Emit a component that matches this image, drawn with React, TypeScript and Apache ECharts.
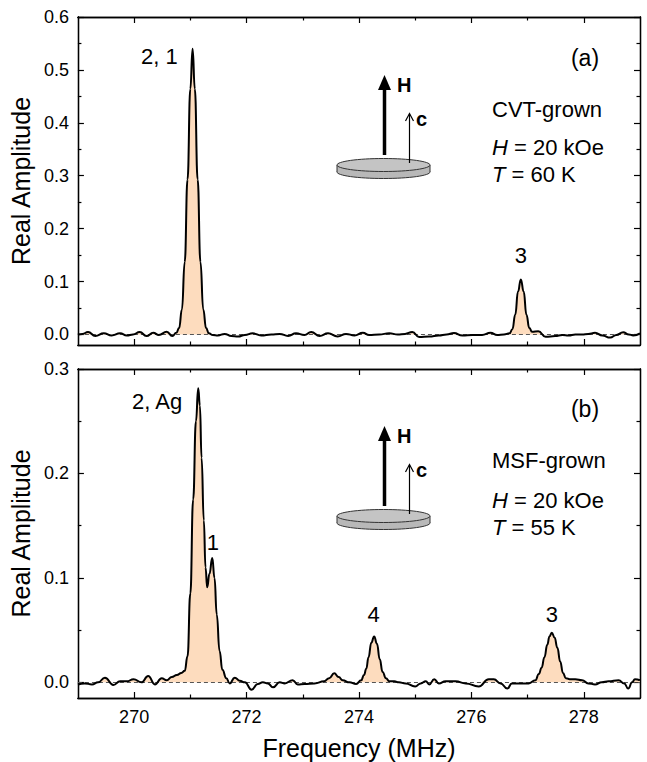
import React, { useEffect, useRef } from "react";
import * as echarts from "echarts";

// ---------- data ----------
const xMin = 269;
const xMax = 279;
const xMajorTicks = [270, 272, 274, 276, 278];
const xMinorTicks = [271, 273, 275, 277];

const yMinA = -0.02;
const yMaxA = 0.6;
const yMajorTicksA = [0, 0.1, 0.2, 0.3, 0.4, 0.5, 0.6];
const yMinorTicksA = [0.05, 0.15, 0.25, 0.35, 0.45, 0.55];

const yMinB = -0.015;
const yMaxB = 0.3;
const yMajorTicksB = [0, 0.1, 0.2, 0.3];
const yMinorTicksB = [0.05, 0.15, 0.25];

// Panel (a): CVT-grown
const freqA = [
  269.0, 269.08, 269.18, 269.31, 269.46, 269.6, 269.75, 269.87, 269.98, 270.1,
  270.22, 270.34, 270.44, 270.58, 270.68, 270.75, 270.8, 270.85, 270.9, 270.95,
  271.0, 271.04, 271.08, 271.13, 271.18, 271.23, 271.28, 271.33, 271.4, 271.49,
  271.61, 271.73, 271.85, 271.97, 272.11, 272.26, 272.44, 272.59, 272.74, 272.88,
  273.03, 273.15, 273.3, 273.45, 273.62, 273.77, 273.92, 274.07, 274.18, 274.36,
  274.54, 274.69, 274.82, 274.95, 275.07, 275.25, 275.42, 275.56, 275.69, 275.84,
  276.02, 276.19, 276.34, 276.46, 276.58, 276.68, 276.73, 276.78, 276.83, 276.88,
  276.93, 276.98, 277.03, 277.08, 277.19, 277.32, 277.49, 277.62, 277.73, 277.85,
  277.97, 278.08, 278.2, 278.33, 278.47, 278.58, 278.7, 278.8, 278.88, 279.0,
];
const ampA = [
  0.0, 0.001, 0.0045, -0.003, 0.002, -0.002, 0.002, -0.002, 0.0, 0.0045,
  -0.003, 0.003, -0.001, 0.005, -0.003, 0.003, 0.012, 0.047, 0.137, 0.293,
  0.464, 0.54, 0.464, 0.293, 0.137, 0.047, 0.012, 0.002, -0.001, -0.002,
  0.001, -0.003, -0.004, -0.001, 0.002, -0.002, 0.0, 0.001, -0.003, 0.002,
  -0.001, 0.0045, -0.003, 0.002, -0.004, 0.001, -0.002, 0.003, -0.001, 0.0,
  0.002, 0.0, 0.001, 0.0045, -0.005, -0.004, -0.002, 0.0, 0.0025, -0.002,
  -0.001, -0.001, 0.003, -0.001, 0.0, 0.002, 0.01, 0.037, 0.081, 0.104,
  0.081, 0.037, 0.012, 0.005, 0.006, -0.0045, -0.003, -0.001, -0.002, 0.0,
  0.0, 0.001, 0.003, -0.002, -0.006, -0.001, 0.004, 0.0, -0.002, 0.002,
];

// Panel (b): MSF-grown
const freqB = [
  269.0, 269.12, 269.25, 269.36, 269.48, 269.63, 269.75, 269.87, 269.99, 270.13,
  270.25, 270.37, 270.49, 270.58, 270.67, 270.76, 270.84, 270.9, 270.95, 271.0,
  271.05, 271.1, 271.14, 271.17, 271.2, 271.24, 271.27, 271.3, 271.34, 271.39,
  271.43, 271.47, 271.52, 271.57, 271.64, 271.7, 271.79, 271.88, 271.97, 272.09,
  272.2, 272.29, 272.38, 272.47, 272.59, 272.68, 272.82, 272.91, 273.03, 273.21,
  273.38, 273.47, 273.56, 273.64, 273.71, 273.83, 273.95, 274.04, 274.09, 274.13,
  274.17, 274.22, 274.27, 274.32, 274.37, 274.42, 274.48, 274.54, 274.63, 274.71,
  274.83, 275.0, 275.1, 275.19, 275.25, 275.34, 275.42, 275.54, 275.72, 275.9,
  276.13, 276.31, 276.4, 276.52, 276.64, 276.72, 276.84, 277.02, 277.14, 277.2,
  277.25, 277.3, 277.35, 277.39, 277.43, 277.48, 277.53, 277.58, 277.63, 277.68,
  277.75, 277.85, 277.97, 278.08, 278.2, 278.32, 278.44, 278.62, 278.72, 278.79,
  278.86, 278.91, 279.0,
];
const ampB = [
  -0.002, -0.001, -0.002, 0.0, 0.0045, -0.0025, 0.001, 0.001, 0.003, 0.0,
  0.006, -0.002, 0.004, 0.002, 0.005, 0.007, 0.009, 0.011, 0.025, 0.085,
  0.175, 0.25, 0.2815, 0.265, 0.215, 0.155, 0.11, 0.091, 0.104, 0.119,
  0.1, 0.065, 0.03, 0.012, 0.004, -0.001, 0.0045, 0.0015, 0.0, -0.007,
  -0.0016, 0.0, -0.001, -0.0048, 0.0, -0.001, 0.002, -0.002, -0.0015, -0.001,
  0.001, 0.004, 0.0086, 0.005, 0.002, 0.0, -0.0015, 0.002, 0.007, 0.013,
  0.024, 0.038, 0.044, 0.037, 0.022, 0.01, 0.004, 0.001, 0.001, 0.0,
  -0.001, -0.004, -0.001, 0.001, -0.002, 0.003, -0.001, 0.001, 0.001, -0.001,
  -0.004, 0.003, 0.003, -0.001, -0.006, -0.001, -0.001, -0.001, 0.002, 0.008,
  0.014, 0.024, 0.036, 0.044, 0.0475, 0.043, 0.033, 0.02, 0.009, 0.004,
  0.003, 0.003, 0.002, -0.001, -0.002, 0.0, 0.001, 0.002, -0.001, -0.006,
  0.0, 0.003, 0.002,
];

// Peak labels (text, and the data-space point they are anchored at)
const peakLabelsA = ["2, 1", "3"];
const peakLabelFreqA = [270.45, 276.88];
const peakLabelAmpA = [0.526, 0.15];
const peakLabelsB = ["2, Ag", "1", "4", "3"];
const peakLabelFreqB = [270.41, 271.4, 274.26, 277.43];
const peakLabelAmpB = [0.2685, 0.134, 0.065, 0.065];

// ---------- styling ----------
const FONT = '"Liberation Sans", Arial, Helvetica, sans-serif';
const BLACK = "#000";
const FILL = "#FDDCBE";
const LEFT = 76;
const RIGHT = 7;
const TOP_A = 17;
const HEIGHT_A = 328;
const TOP_B = 369;
const HEIGHT_B = 329;

function axisLine() {
  return { show: true, onZero: false, lineStyle: { color: BLACK, width: 1.3 } };
}

function tickAxis(gi: number, position: string, values: number[], len: number, min: number, max: number, extra: any = {}) {
  return {
    type: "value",
    gridIndex: gi,
    position,
    min,
    max,
    axisLine: axisLine(),
    axisTick: { show: true, inside: true, length: len, customValues: values, lineStyle: { color: BLACK, width: 1.2 } },
    axisLabel: { show: false, customValues: values },
    splitLine: { show: false },
    minorTick: { show: false },
    ...extra,
  };
}

function xAxesFor(gi: number, showLabels: boolean) {
  const main = tickAxis(gi, "bottom", xMajorTicks, 6, xMin, xMax, {
    axisLabel: {
      show: showLabels,
      customValues: xMajorTicks,
      margin: 10,
      fontSize: 18,
      color: BLACK,
      fontFamily: FONT,
    },
    name: showLabels ? "Frequency (MHz)" : "",
    nameLocation: "middle",
    nameGap: 37,
    nameTextStyle: { fontSize: 25, color: BLACK, fontFamily: FONT },
  });
  return [
    main,
    tickAxis(gi, "bottom", xMinorTicks, 3.5, xMin, xMax),
    tickAxis(gi, "top", xMajorTicks, 6, xMin, xMax),
    tickAxis(gi, "top", xMinorTicks, 3.5, xMin, xMax),
  ];
}

function yAxesFor(gi: number, min: number, max: number, major: number[], minor: number[]) {
  const main = tickAxis(gi, "left", major, 6, min, max, {
    axisLabel: {
      show: true,
      customValues: major,
      margin: 9,
      fontSize: 18,
      color: BLACK,
      fontFamily: FONT,
      formatter: (v: number) => v.toFixed(1),
    },
    name: "Real Amplitude",
    nameLocation: "middle",
    nameGap: 41,
    nameTextStyle: { fontSize: 25, color: BLACK, fontFamily: FONT },
  });
  return [
    main,
    tickAxis(gi, "left", minor, 3.5, min, max),
    tickAxis(gi, "right", major, 6, min, max),
    tickAxis(gi, "right", minor, 3.5, min, max),
  ];
}

function seriesFor(gi: number, freq: number[], amp: number[], labels: string[], lf: number[], la: number[]) {
  const line = freq.map((f, i) => [f, amp[i]]);
  const fill = freq.map((f, i) => [f, Math.max(0, amp[i])]);
  const axisIdx = gi * 4;
  return [
    {
      type: "line",
      xAxisIndex: axisIdx,
      yAxisIndex: axisIdx,
      data: fill,
      smooth: 0.5,
      smoothMonotone: "x",
      symbol: "none",
      lineStyle: { width: 0, opacity: 0 },
      areaStyle: { color: FILL, opacity: 1, origin: 0 },
      silent: true,
      z: 1,
      markLine: {
        silent: true,
        symbol: "none",
        label: { show: false },
        lineStyle: { type: [4, 3], color: "#555", width: 1 },
        data: [{ yAxis: 0 }],
        z: 2,
      },
    },
    {
      type: "line",
      xAxisIndex: axisIdx,
      yAxisIndex: axisIdx,
      data: line,
      smooth: 0.5,
      smoothMonotone: "x",
      symbol: "none",
      lineStyle: { color: BLACK, width: 2 },
      silent: true,
      z: 3,
      markPoint: {
        symbol: "rect",
        symbolSize: 1,
        silent: true,
        itemStyle: { color: "rgba(0,0,0,0)" },
        label: {
          show: true,
          position: "inside",
          formatter: "{b}",
          fontSize: 22,
          color: BLACK,
          fontFamily: FONT,
        },
        data: labels.map((t, i) => ({ name: t, coord: [lf[i], la[i]] })),
      },
    },
  ];
}

function textEl(text: string, x: number, y: number, size: number, opts: any = {}) {
  return {
    type: "text",
    x,
    y,
    z: 10,
    style: {
      text,
      fill: BLACK,
      fontSize: size,
      fontFamily: FONT,
      fontWeight: opts.bold ? "bold" : "normal",
      align: opts.align || "left",
      textAlign: opts.align || "left",
      verticalAlign: "middle",
      textVerticalAlign: "middle",
      rich: {
        i: { fontStyle: "italic", fontSize: size, fontFamily: FONT, fill: BLACK },
      },
    },
  };
}

function inset(dy: number) {
  const cx = 383.5;
  const rx = 46.5;
  const ry = 6.5;
  const topY = 165 + dy;
  const thick = 7;
  return [
    { type: "ellipse", z: 10, shape: { cx, cy: topY + thick, rx, ry }, style: { fill: "#b8b8b8", stroke: "#333", lineWidth: 1 } },
    { type: "rect", z: 10, shape: { x: cx - rx, y: topY, width: rx * 2, height: thick }, style: { fill: "#b8b8b8" } },
    { type: "line", z: 10, shape: { x1: cx - rx, y1: topY, x2: cx - rx, y2: topY + thick }, style: { stroke: "#333", lineWidth: 1 } },
    { type: "line", z: 10, shape: { x1: cx + rx, y1: topY, x2: cx + rx, y2: topY + thick }, style: { stroke: "#333", lineWidth: 1 } },
    { type: "ellipse", z: 10, shape: { cx, cy: topY, rx, ry }, style: { fill: "#c4c4c4", stroke: "#333", lineWidth: 1 } },
    // thick arrow (H)
    { type: "line", z: 11, shape: { x1: 384.5, y1: 155 + dy, x2: 384.5, y2: 88 + dy }, style: { stroke: BLACK, lineWidth: 3.5 } },
    { type: "polygon", z: 11, shape: { points: [[384.5, 75 + dy], [378, 90 + dy], [391, 90 + dy]] }, style: { fill: BLACK } },
    textEl("H", 397, 84.5 + dy, 20, { bold: true }),
    // thin arrow (c)
    { type: "line", z: 11, shape: { x1: 409.5, y1: 163 + dy, x2: 409.5, y2: 114 + dy }, style: { stroke: BLACK, lineWidth: 1.2 } },
    { type: "polyline", z: 11, shape: { points: [[405.5, 121 + dy], [409.5, 113.5 + dy], [413.5, 121 + dy]] }, style: { stroke: BLACK, lineWidth: 1.2, fill: "none" } },
    textEl("c", 416, 119 + dy, 20, { bold: true }),
  ];
}

export default function App() {
  const ref = useRef<HTMLDivElement>(null);
  useEffect(() => {
    if (!ref.current) return;
    const chart = echarts.init(ref.current, undefined, { renderer: "svg" });
    const option: any = {
      animation: false,
      backgroundColor: "#fff",
      textStyle: { fontFamily: FONT },
      grid: [
        { left: LEFT, right: RIGHT, top: TOP_A, height: HEIGHT_A, containLabel: false },
        { left: LEFT, right: RIGHT, top: TOP_B, height: HEIGHT_B, containLabel: false },
      ],
      xAxis: [...xAxesFor(0, false), ...xAxesFor(1, true)],
      yAxis: [
        ...yAxesFor(0, yMinA, yMaxA, yMajorTicksA, yMinorTicksA),
        ...yAxesFor(1, yMinB, yMaxB, yMajorTicksB, yMinorTicksB),
      ],
      series: [
        ...seriesFor(0, freqA, ampA, peakLabelsA, peakLabelFreqA, peakLabelAmpA),
        ...seriesFor(1, freqB, ampB, peakLabelsB, peakLabelFreqB, peakLabelAmpB),
      ],
      graphic: [
        ...inset(0),
        ...inset(351),
        textEl("(a)", 585, 57.5, 23, { align: "center" }),
        textEl("CVT-grown", 492, 109, 22),
        textEl("{i|H} = 20 kOe", 492, 147, 22),
        textEl("{i|T} = 60 K", 492, 174.5, 22),
        textEl("(b)", 585, 408.5, 23, { align: "center" }),
        textEl("MSF-grown", 492, 460, 22),
        textEl("{i|H} = 20 kOe", 492, 500.5, 22),
        textEl("{i|T} = 55 K", 492, 527.5, 22),
      ],
    };
    chart.setOption(option);
    return () => chart.dispose();
  }, []);
  return (
    <div
      ref={ref}
      style={{ position: "fixed", left: 0, top: 0, width: 647, height: 762, background: "#fff" }}
    />
  );
}
